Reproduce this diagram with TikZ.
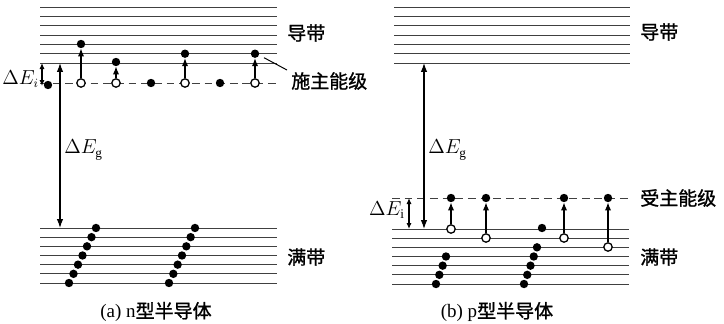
\documentclass[tikz,border=0pt]{standalone}
\usepackage{fontspec}
\setmainfont{Liberation Serif}
\newfontfamily\cjk[FakeBold=1.2]{Noto Sans CJK SC}
\usetikzlibrary{arrows.meta, calc}

\begin{document}
\begin{tikzpicture}[
		x=0.025cm, y=-0.025cm,
		level/.style = {gray!50!black, line width=0.6pt},
		implevel/.style = {level, dash pattern=on 5.5pt off 3.5pt},
		elec/.style = {circle, fill=black, inner sep=0pt, minimum size=2.1mm},
		hole/.style = {circle, draw, fill=white, line width=0.9pt, inner sep=0pt, minimum size=2.1mm},
		arr/.style = {-{Latex[length=2mm, width=1.6mm]}, line width=0.9pt},
		darr/.style = {{Latex[length=2.2mm, width=1.6mm]}-{Latex[length=2.2mm, width=1.6mm]}, line width=0.9pt},
		sarr/.style = {{Latex[length=1.5mm, width=1.3mm]}-{Latex[length=1.5mm, width=1.3mm]}, line width=0.9pt},
		lbl/.style = {font=\cjk\fontsize{13.5}{16}\selectfont, anchor=west, inner sep=0pt},
		captext/.style = {font=\fontsize{13.5}{16}\selectfont, inner sep=0pt},
		dE/.style = {font=\fontsize{13.5}{16}\selectfont, inner sep=0pt},
	]
	\useasboundingbox (0,0) rectangle (724,323);

	% (a) n型：导带与满带
	\foreach \k in {0,...,6} {
		\draw[level] (40,{7+9.33*\k}) -- (277,{7+9.33*\k});
		\draw[level] (40,{228+9.17*\k}) -- (277,{228+9.17*\k});
	}
	\draw[implevel] (40,83) -- (277,83);

	% 施主与激发电子
	\node[elec] (dn1) at (48,85) {};
	\node[hole] (dh1) at (81,83) {};
	\node[hole] (dh2) at (116,83) {};
	\node[elec] (dn2) at (151,83) {};
	\node[hole] (dh3) at (185,83) {};
	\node[elec] (dn3) at (220,83) {};
	\node[hole] (dh4) at (255,83) {};
	\node[elec] (de1) at (81,44) {};
	\node[elec] (de2) at (116,62) {};
	\node[elec] (de3) at (185,53.7) {};
	\node[elec] (de4) at (255,53.7) {};
	\foreach \i in {1,...,4} \draw[arr] (dh\i) -- (de\i);

	% 满带电子
	\foreach \k in {0,...,6} {
		\node[elec] (va\k) at ({69+4.5*\k},{283-9.17*\k}) {};
		\node[elec] (vb\k) at ({169+4.33*\k},{283-9.17*\k}) {};
	}

	% 能隙与电离能
	\coordinate (gta) at (60,63);
	\coordinate (gba) at (60,228);
	\draw[darr] (gta) -- (gba);
	\node[dE, anchor=west] (ega) at (64,150) {$\Delta E_{\mathrm{g}}$};
	\coordinate (ita) at (42,63);
	\coordinate (iba) at (42,86);
	\draw[sarr] (ita) -- (iba);
	\node[dE, anchor=east] (eia) at (39,79) {$\Delta E_i$};

	\node[lbl] (cba) at (287,33) {导带};
	\node[lbl] (don) at (291,81) {施主能级};
	\node[lbl] (vba) at (287,257) {满带};
	\draw[line width=0.7pt] ($(de4)+(9,4)$) -- ($(don.west)+(-4,-11)$);
	\node[captext] (capa) at (156,312) {(a) n{\cjk 型半导体}};

	% (b) p型：导带与满带
	\foreach \k in {0,...,6} {
		\draw[level] (394,{7+9.33*\k}) -- (630,{7+9.33*\k});
		\draw[level] (392,{229+9.17*\k}) -- (629,{229+9.17*\k});
	}
	\draw[implevel] (392,198) -- (630,198);

	% 受主与空穴
	\node[elec] (ae1) at (451,198) {};
	\node[elec] (ae2) at (486,198) {};
	\node[elec] (ae3) at (564,198) {};
	\node[elec] (ae4) at (608,198) {};
	\node[hole] (ah1) at (451,229) {};
	\node[hole] (ah2) at (486,238) {};
	\node[hole] (ah3) at (564,238) {};
	\node[hole] (ah4) at (608,247) {};
	\foreach \i in {1,...,4} \draw[arr] (ah\i) -- (ae\i);
	\node[elec] (afree) at (542,228) {};

	% 满带电子
	\foreach \k in {0,...,3}
		\node[elec] (vc\k) at ({436+3.33*\k},{284-9.17*\k}) {};
	\foreach \k in {0,...,4}
		\node[elec] (vd\k) at ({524+3.25*\k},{284-9.17*\k}) {};

	% 能隙与电离能
	\coordinate (gtb) at (424,63);
	\coordinate (gbb) at (424,229);
	\draw[darr] (gtb) -- (gbb);
	\node[dE, anchor=west] (egb) at (428,150) {$\Delta E_{\mathrm{g}}$};
	\coordinate (itb) at (409,198);
	\coordinate (ibb) at (409,229);
	\draw[sarr] (itb) -- (ibb);
	\node[dE, anchor=east] (eib) at (405,210) {$\Delta E_{\mathrm{i}}$};

	\node[lbl] (cbb) at (640,32) {导带};
	\node[lbl] (acc) at (640,198) {受主能级};
	\node[lbl] (vbb) at (640,257) {满带};
	\node[captext] (capb) at (497,312) {(b) p{\cjk 型半导体}};
\end{tikzpicture}
\end{document}
